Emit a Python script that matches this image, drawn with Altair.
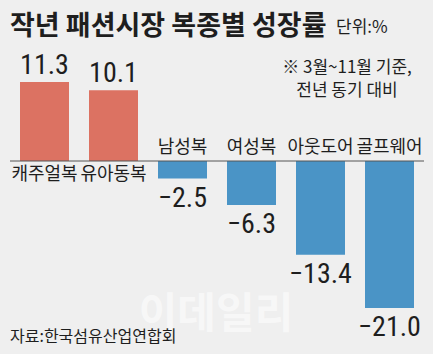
import altair as alt
import pandas as pd

categories = ["캐주얼복", "유아동복", "남성복", "여성복", "아웃도어", "골프웨어"]
values = [11.3, 10.1, -2.5, -6.3, -13.4, -21.0]
value_labels = ["11.3", "10.1", "−2.5", "−6.3", "−13.4", "−21.0"]

title_text = "작년 패션시장 복종별 성장률"
unit_text = "단위:%"
note_line1 = "※ 3월~11월 기준,"
note_line2 = "전년 동기 대비"
source_text = "자료:한국섬유산업연합회"
watermark_text = "이데일리"

RED = "#dc7262"
BLUE = "#4a94c6"
BG = "#efefef"
INK = "#1e1e1e"
KR = "Noto Sans CJK KR"
NUM = "Liberation Sans Narrow, Arial Narrow, Roboto Condensed, Liberation Sans, sans-serif"

W, H = 433, 354

df = pd.DataFrame({"cat": categories, "val": values, "lab": value_labels})
df["sign"] = ["pos" if v > 0 else "neg" for v in values]
df["zero"] = 0

xenc = alt.X("cat:N", sort=categories,
             scale=alt.Scale(range=[10, 424], paddingInner=0.29, paddingOuter=0.145),
             axis=None)
yscale = alt.Scale(domain=[-27.57, 23], nice=False, zero=False)
yenc = alt.Y("val:Q", scale=yscale, axis=None)
y0 = alt.Y("zero:Q", scale=yscale, axis=None)

base = alt.Chart(df)

bars = base.mark_bar(size=49).encode(
    x=xenc, y=yenc, y2="zero:Q",
    color=alt.Color("sign:N", scale=alt.Scale(domain=["pos", "neg"], range=[RED, BLUE]), legend=None),
)

pos_vals = base.transform_filter("datum.val > 0").mark_text(
    font=NUM, fontSize=28, baseline="alphabetic", dy=-8, color=INK
).encode(x=xenc, y=yenc, text="lab:N")

neg_vals = base.transform_filter("datum.val < 0").mark_text(
    font=NUM, fontSize=28, baseline="top", dy=6, color=INK
).encode(x=xenc, y=yenc, text="lab:N")

pos_cats = base.transform_filter("datum.val > 0").mark_text(
    font=KR, fontSize=18, baseline="top", dy=5, color=INK
).encode(x=xenc, y=y0, text="cat:N")

neg_cats = base.transform_filter("datum.val < 0").mark_text(
    font=KR, fontSize=18, baseline="alphabetic", dy=-8, color=INK
).encode(x=xenc, y=y0, text="cat:N")

rule = base.transform_filter("datum.cat == '캐주얼복'").mark_rule(color="#555555", strokeWidth=1).encode(
    y=y0, x=alt.value(10), x2=alt.value(424)
)


def txt(s, x, y, size, weight="normal", align="left", color=INK, opacity=1.0):
    d = pd.DataFrame({"t": [s]})
    return alt.Chart(d).mark_text(
        font=KR, fontSize=size, fontWeight=weight, align=align,
        baseline="alphabetic", color=color, opacity=opacity
    ).encode(x=alt.value(x), y=alt.value(y), text="t:N")


watermark = txt(watermark_text, 216, 328, 42, weight="bold", align="center", color="#ffffff", opacity=0.55)
title = txt(title_text, 10, 35, 27, weight="bold")
unit = txt(unit_text, 336, 33, 17)
note1 = txt(note_line1, 347, 73, 17, align="center")
note2 = txt(note_line2, 347, 96, 17, align="center")
source = txt(source_text, 10, 342, 16)

chart = alt.layer(
    watermark, bars, rule, pos_vals, neg_vals, pos_cats, neg_cats, title, unit, note1, note2, source
).properties(
    width=W, height=H, autosize=alt.AutoSizeParams(type="none"), padding=0, background=BG
).configure_view(stroke=None)

chart.save("out.html", embed_options={"renderer": "svg", "actions": False})
